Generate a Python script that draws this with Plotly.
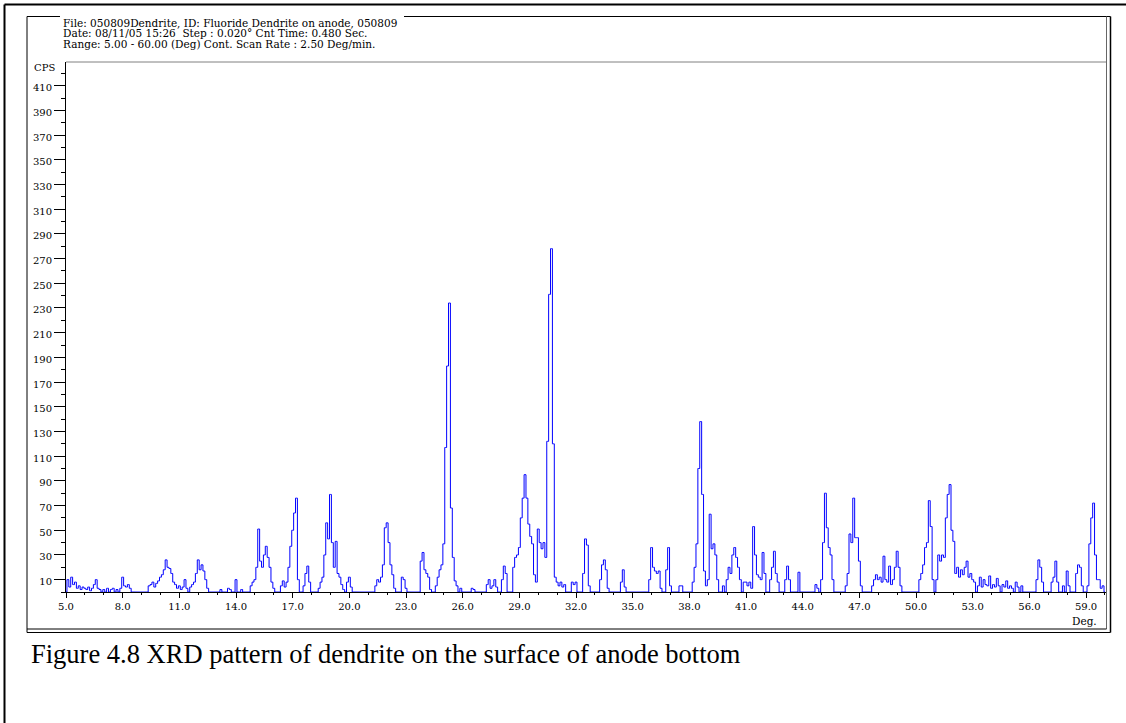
import plotly.graph_objects as go

# ---------------- data ----------------
scan_start_deg = 5.0
scan_step_deg = 0.1

# CPS read every 0.1 deg, one row per degree (5.x, 6.x, ... 59.x, then 60.0)
cps = [
    0, 10, 4, 12, 6, 8, 3, 5, 2, 4,          # 5
    3, 2, 4, 1, 3, 6, 10, 3, 2, 0,           # 6
    2, 0, 3, 0, 2, 3, 0, 2, 0, 3,            # 7
    12, 5, 4, 6, 3, 0, 0, 0, 0, 0,           # 8
    0, 0, 0, 0, 5, 6, 8, 4, 7, 9,            # 9
    12, 14, 18, 26, 20, 19, 15, 8, 6, 3,     # 10
    5, 2, 4, 10, 3, 0, 4, 6, 8, 15,          # 11
    26, 18, 22, 17, 10, 3, 0, 0, 0, 0,       # 12
    0, 0, 2, 0, 0, 0, 3, 2, 0, 0,            # 13
    10, 0, 0, 2, 0, 0, 0, 0, 5, 8,           # 14
    10, 20, 51, 25, 20, 30, 37, 28, 20, 8,   # 15
    3, 0, 0, 0, 5, 9, 4, 8, 20, 37,          # 16
    50, 64, 76, 10, 0, 0, 5, 15, 21, 8,      # 17
    0, 0, 0, 0, 3, 8, 12, 30, 56, 43,        # 18
    79, 40, 20, 41, 15, 12, 6, 2, 0, 8,      # 19
    12, 4, 0, 0, 0, 0, 0, 0, 0, 0,           # 20
    0, 0, 0, 0, 5, 10, 8, 12, 22, 52,        # 21
    56, 40, 22, 14, 3, 0, 0, 0, 12, 10,      # 22
    3, 0, 0, 0, 0, 0, 0, 0, 25, 32,          # 23
    18, 15, 12, 2, 0, 0, 5, 12, 18, 22,      # 24
    39, 117, 183, 234, 68, 28, 9, 5, 0, 3,   # 25
    0, 0, 0, 0, 0, 3, 2, 0, 0, 0,            # 26
    0, 0, 0, 6, 10, 3, 5, 10, 4, 0,          # 27
    0, 10, 21, 15, 0, 0, 0, 20, 28, 30,      # 28
    36, 60, 76, 95, 76, 55, 45, 39, 14, 8,   # 29
    51, 40, 35, 40, 28, 122, 241, 278, 120, 12,  # 30
    8, 5, 8, 4, 6, 0, 0, 0, 8, 6,            # 31
    8, 0, 0, 0, 15, 43, 38, 5, 0, 0,         # 32
    0, 0, 0, 10, 22, 26, 18, 3, 0, 0,        # 33
    0, 0, 0, 0, 8, 18, 4, 0, 0, 0,           # 34
    0, 0, 0, 0, 0, 0, 0, 0, 0, 10,           # 35
    36, 20, 17, 15, 17, 3, 0, 0, 18, 36,     # 36
    5, 0, 0, 0, 0, 5, 5, 0, 0, 0,            # 37
    0, 0, 8, 20, 39, 100, 138, 79, 17, 5,    # 38
    10, 63, 35, 39, 30, 10, 0, 0, 5, 0,      # 39
    10, 20, 15, 30, 36, 28, 20, 10, 0, 8,    # 40
    8, 5, 8, 3, 53, 30, 14, 12, 10, 32,      # 41
    15, 0, 0, 10, 20, 33, 15, 8, 0, 0,       # 42
    0, 10, 21, 10, 0, 0, 0, 0, 16, 0,        # 43
    0, 0, 0, 0, 0, 0, 0, 6, 3, 0,            # 44
    10, 40, 80, 52, 36, 30, 10, 0, 0, 0,     # 45
    0, 0, 0, 5, 15, 47, 40, 76, 44, 44,      # 46
    25, 5, 0, 0, 0, 0, 0, 5, 10, 14,         # 47
    10, 12, 8, 29, 10, 8, 21, 6, 10, 20,     # 48
    33, 20, 5, 0, 0, 0, 0, 0, 0, 0,          # 49
    0, 0, 10, 15, 22, 36, 40, 74, 53, 10,    # 50
    0, 10, 30, 25, 30, 28, 60, 79, 87, 50,   # 51
    41, 15, 20, 12, 18, 14, 20, 25, 12, 15,  # 52
    10, 8, 0, 5, 12, 4, 10, 6, 5, 13,        # 53
    3, 6, 4, 11, 5, 0, 6, 4, 9, 3,           # 54
    5, 3, 0, 8, 4, 0, 5, 0, 0, 0,            # 55
    0, 0, 0, 0, 10, 26, 20, 8, 0, 0,         # 56
    0, 0, 8, 12, 25, 8, 0, 0, 5, 0,          # 57
    17, 5, 0, 0, 0, 15, 22, 20, 5, 0,        # 58
    0, 5, 39, 60, 72, 30, 10, 10, 3, 5,      # 59
    0,                                       # 60.0
]

x_tick_vals = [5, 8, 11, 14, 17, 20, 23, 26, 29, 32, 35, 38, 41, 44, 47, 50, 53, 56, 59]
x_tick_text = ["5.0", "8.0", "11.0", "14.0", "17.0", "20.0", "23.0", "26.0", "29.0", "32.0",
               "35.0", "38.0", "41.0", "44.0", "47.0", "50.0", "53.0", "56.0", "59.0"]
y_tick_vals = [10, 30, 50, 70, 90, 110, 130, 150, 170, 190, 210, 230, 250, 270, 290,
               310, 330, 350, 370, 390, 410]
y_tick_text = [str(v) for v in y_tick_vals]

header_lines = [
    "File: 050809Dendrite, ID: Fluoride Dendrite on anode, 050809",
    "Date: 08/11/05 15:26  Step : 0.020\u00b0 Cnt Time: 0.480 Sec.",
    "Range: 5.00 - 60.00 (Deg) Cont. Scan Rate : 2.50 Deg/min.",
]
y_unit = "CPS"
x_unit = "Deg."
caption = "Figure 4.8 XRD pattern of dendrite on the surface of anode bottom"

two_theta = [round(scan_start_deg + i * scan_step_deg, 2) for i in range(len(cps))]

# ---------------- layout geometry (pixels) ----------------
W, H = 1126, 723
PL, PR, PT, PB = 66, 1106, 62, 592   # plot area
SERIF = "Liberation Serif, Times New Roman, serif"
SMALL = "DejaVu Serif, serif"


def px(x):
    return (x - PL) / (PR - PL)


def py(y):
    return (PB - y) / (PB - PT)


fig = go.Figure()
fig.add_trace(go.Scatter(
    x=two_theta, y=cps, mode="lines",
    line=dict(color="#0000ff", width=1, shape="hvh"),
    hoverinfo="x+y",
))

shapes = []


def seg(x0, y0, x1, y1, color="black", width=1):
    shapes.append(dict(type="line", xref="paper", yref="paper",
                       x0=px(x0), y0=py(y0), x1=px(x1), y1=py(y1),
                       line=dict(color=color, width=width), layer="above"))


# page frame (left and top)
seg(4.5, 4.5, 4.5, 723, width=2)
seg(4.5, 4.5, 1126, 4.5, width=2)
# chart box outer
seg(27, 16.5, 60, 16.5)
seg(404, 16.5, 1110.5, 16.5)
seg(27, 16.5, 27, 632.5)
seg(27, 632.5, 1110.5, 632.5)
seg(1110.5, 16.5, 1110.5, 632.5, width=1.5)
# inner frame
seg(1106.5, 16.5, 1106.5, 629, color="#666666")
seg(27, 629, 1106.5, 629)
# plot top border
seg(PL, PT, PR, PT, color="#808080")

annotations = []
for i, line in enumerate(header_lines):
    annotations.append(dict(
        text=line, xref="paper", yref="paper", x=px(61), y=py(22.7 + 10.7 * i),
        xanchor="left", yanchor="middle", showarrow=False,
        font=dict(family=SMALL, size=10.5, color="black")))
annotations.append(dict(
    text=y_unit, xref="paper", yref="paper", x=px(57), y=py(67),
    xanchor="right", yanchor="middle", showarrow=False,
    font=dict(family=SMALL, size=10, color="black")))
annotations.append(dict(
    text=x_unit, xref="paper", yref="paper", x=px(1099), y=py(621),
    xanchor="right", yanchor="middle", showarrow=False,
    font=dict(family=SMALL, size=10.5, color="black")))
annotations.append(dict(
    text=caption, xref="paper", yref="paper", x=px(29), y=py(654),
    xanchor="left", yanchor="middle", showarrow=False,
    font=dict(family=SERIF, size=26.5, color="black")))

fig.update_layout(
    width=W, height=H,
    margin=dict(l=PL, r=W - PR, t=PT, b=H - PB, pad=0),
    paper_bgcolor="white", plot_bgcolor="white",
    showlegend=False,
    shapes=shapes, annotations=annotations,
    xaxis=dict(
        range=[5, 5 + (PR - PL) / 18.89],
        tickvals=x_tick_vals, ticktext=x_tick_text,
        ticks="outside", ticklen=5, tickwidth=1, tickcolor="black",
        showline=True, linecolor="black", linewidth=1,
        showgrid=False, zeroline=False,
        tickfont=dict(family=SMALL, size=10, color="black"),
        minor=dict(tick0=5, dtick=1, ticks="outside", ticklen=2, tickcolor="black"),
    ),
    yaxis=dict(
        range=[0, (PB - PT) / 1.235],
        tickvals=y_tick_vals, ticktext=y_tick_text,
        ticks="outside", ticklen=11, tickwidth=1, tickcolor="black",
        showline=True, linecolor="black", linewidth=1,
        showgrid=False, zeroline=False,
        ticklabelstandoff=0, ticklabelshift=2,
        tickfont=dict(family=SMALL, size=10, color="black"),
        minor=dict(tick0=0, dtick=20, ticks="outside", ticklen=4, tickcolor="black"),
    ),
)

fig.write_html("out.html")
